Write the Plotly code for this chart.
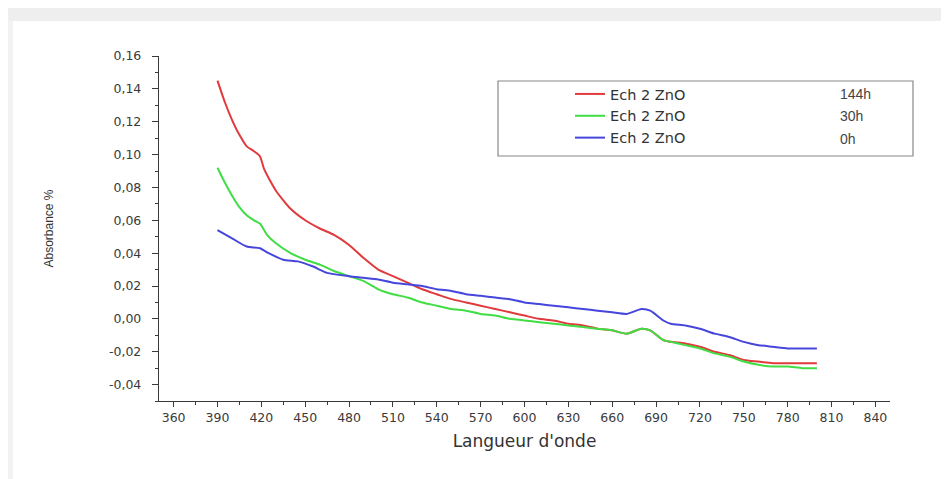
import plotly.graph_objects as go

# ---- data ----
wl_red = [390, 395, 400, 405, 410, 415, 419, 422, 430, 440, 450, 460, 470, 480, 490, 500,
          510, 520, 530, 540, 550, 560, 570, 580, 590, 600, 610, 620, 630, 640, 650, 660,
          670, 680, 686, 695, 700, 710, 720, 730, 740, 750, 760, 770, 780, 790, 800]
abs_red = [0.145, 0.132, 0.121, 0.112, 0.105, 0.102, 0.099, 0.091, 0.078, 0.067, 0.060, 0.055,
           0.051, 0.045, 0.037, 0.030, 0.026, 0.022, 0.018, 0.015, 0.012, 0.010, 0.008, 0.006,
           0.004, 0.002, 0.000, -0.001, -0.003, -0.004, -0.006, -0.007, -0.009, -0.006, -0.007,
           -0.013, -0.014, -0.015, -0.017, -0.020, -0.022, -0.025, -0.026, -0.027, -0.027,
           -0.027, -0.027]

wl_green = [390, 395, 400, 405, 410, 415, 419, 424, 430, 440, 450, 460, 470, 480, 490, 500,
            510, 520, 530, 540, 550, 560, 570, 580, 590, 600, 610, 620, 630, 640, 650, 660,
            670, 680, 686, 695, 700, 710, 720, 730, 740, 750, 760, 770, 780, 790, 800]
abs_green = [0.092, 0.083, 0.075, 0.068, 0.063, 0.060, 0.058, 0.051, 0.046, 0.040, 0.036, 0.033,
             0.029, 0.026, 0.023, 0.018, 0.015, 0.013, 0.010, 0.008, 0.006, 0.005, 0.003, 0.002,
             0.000, -0.001, -0.002, -0.003, -0.004, -0.005, -0.006, -0.007, -0.009, -0.006,
             -0.007, -0.013, -0.014, -0.016, -0.018, -0.021, -0.023, -0.026, -0.028, -0.029,
             -0.029, -0.030, -0.030]

wl_blue = [390, 400, 410, 419, 425, 435, 445, 455, 465, 480, 490, 500, 510, 520, 530, 540,
           550, 560, 570, 580, 590, 600, 610, 620, 630, 640, 650, 660, 670, 680, 686, 695,
           700, 710, 720, 730, 740, 750, 760, 770, 780, 790, 800]
abs_blue = [0.054, 0.049, 0.044, 0.043, 0.040, 0.036, 0.035, 0.032, 0.028, 0.026, 0.025, 0.024,
            0.022, 0.021, 0.020, 0.018, 0.017, 0.015, 0.014, 0.013, 0.012, 0.010, 0.009, 0.008,
            0.007, 0.006, 0.005, 0.004, 0.003, 0.006, 0.005, -0.001, -0.003, -0.004, -0.006,
            -0.009, -0.011, -0.014, -0.016, -0.017, -0.018, -0.018, -0.018]

series_names = ["Ech 2 ZnO", "Ech 2 ZnO", "Ech 2 ZnO"]
series_hours = ["144h", "30h", "0h"]
series_colors = ["#e03a3c", "#40dd44", "#4646dc"]

x_tickvals = list(range(360, 841, 30))
y_tickvals = [0.16, 0.14, 0.12, 0.10, 0.08, 0.06, 0.04, 0.02, 0.00, -0.02, -0.04]
y_ticktext = ["0,16", "0,14", "0,12", "0,10", "0,08", "0,06", "0,04", "0,02", "0,00", "-0,02", "-0,04"]

W, H = 949, 479
ML, MR, MT, MB = 151, 67, 48, 86
PW, PH = W - ML - MR, H - MT - MB


def px_x(p):
    return (p - ML) / PW


def px_y(p):
    return (H - MB - p) / PH


fig = go.Figure()
for xs, ys, name, col in zip([wl_red, wl_green, wl_blue], [abs_red, abs_green, abs_blue],
                             series_names, series_colors):
    fig.add_trace(go.Scatter(x=xs, y=ys, mode="lines", name=name,
                             line=dict(color=col, width=2, shape="spline", smoothing=0.6)))

WIDE = "DejaVu Sans, Verdana, sans-serif"
NARROW = "Liberation Sans, Arial, sans-serif"
axis_font = dict(family=WIDE, size=12.5, color="#3a3a3a")

fig.update_layout(
    width=W, height=H,
    margin=dict(l=ML, r=MR, t=MT, b=MB),
    paper_bgcolor="white", plot_bgcolor="white",
    showlegend=True,
    legend=dict(x=px_x(562), y=px_y(70), xanchor="left", yanchor="top",
                bgcolor="rgba(0,0,0,0)", borderwidth=0,
                font=dict(family=WIDE, size=14.5, color="#333333"),
                itemwidth=30, tracegroupgap=0),
    xaxis=dict(range=[350, 850], tickvals=x_tickvals, ticks="outside", ticklen=5,
               tickwidth=1.3, tickcolor="#3a3a3a", showline=True, linecolor="#3a3a3a",
               linewidth=1.4, showgrid=False, zeroline=False, tickfont=axis_font,
               minor=dict(ticks="outside", ticklen=3, dtick=15, tick0=360, tickcolor="#3a3a3a",
                          showgrid=False),
               title=dict(text="Langueur d'onde", standoff=10,
                          font=dict(family=WIDE, size=17, color="#333333"))),
    yaxis=dict(range=[-0.05, 0.16], tickvals=y_tickvals, ticktext=y_ticktext, ticks="outside",
               ticklen=6, tickwidth=1.3, tickcolor="#3a3a3a", showline=True,
               linecolor="#3a3a3a", linewidth=1.4, showgrid=False, zeroline=False,
               tickfont=axis_font, ticklabelstandoff=8,
               minor=dict(ticks="outside", ticklen=3, dtick=0.01, tick0=0,
                          tickcolor="#3a3a3a", showgrid=False),
               title=dict(text="Absorbance %", standoff=52,
                          font=dict(family=NARROW, size=12, color="#333333"))),
)

# legend box and hour labels
fig.add_shape(type="rect", xref="paper", yref="paper",
              x0=px_x(490), x1=px_x(905), y0=px_y(148), y1=px_y(73),
              line=dict(color="#888888", width=1.2), fillcolor="rgba(0,0,0,0)", layer="below")
for i, h in enumerate(series_hours):
    fig.add_annotation(xref="paper", yref="paper", x=px_x(830), y=px_y([86, 108, 131][i]),
                       xanchor="left", yanchor="middle", showarrow=False, text=h,
                       font=dict(family=NARROW, size=14, color="#444444"))

# greyish screenshot frame
fig.add_shape(type="rect", xref="paper", yref="paper", x0=px_x(0), x1=px_x(W),
              y0=px_y(13), y1=px_y(0), line=dict(width=0), fillcolor="#eeeeee", layer="below")
fig.add_shape(type="rect", xref="paper", yref="paper", x0=px_x(0), x1=px_x(5),
              y0=px_y(H), y1=px_y(13), line=dict(width=0), fillcolor="#f2f2f2", layer="below")

fig.write_html("out.html")
